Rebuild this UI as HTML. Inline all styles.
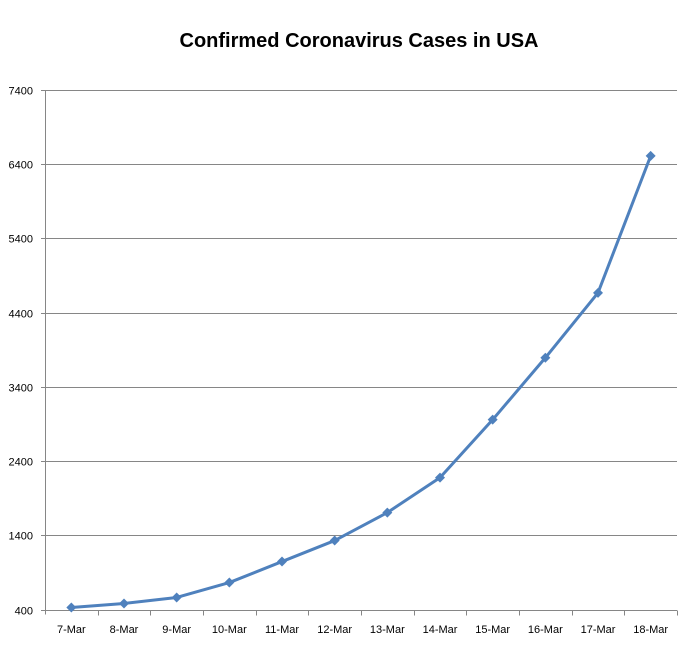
<!DOCTYPE html>
<html><head><meta charset="utf-8"><style>
body{margin:0;background:#fff;}
svg{display:block;font-family:"Liberation Sans",Arial,sans-serif;}
</style></head><body>
<svg id="chart" width="689" height="649">
<text x="359" y="47" text-anchor="middle" font-size="20" font-weight="bold" fill="#000">Confirmed Coronavirus Cases in USA</text>
<g id="grid"></g><g id="axes"></g><g id="series"></g>
</svg>
<script>
const categories=["7-Mar","8-Mar","9-Mar","10-Mar","11-Mar","12-Mar","13-Mar","14-Mar","15-Mar","16-Mar","17-Mar","18-Mar"];
const cases=[427,481,562,763,1046,1329,1706,2177,2958,3792,4667,6512];
const yTicks=[400,1400,2400,3400,4400,5400,6400,7400];
const ns="http://www.w3.org/2000/svg";
const L=45,R=677,T=90,B=609.5,yMin=400,yMax=7400;
const step=(R-L)/categories.length;
const xs=i=>L+step*(i+0.5);
const ys=v=>B-(v-yMin)/(yMax-yMin)*(B-T);
function mk(t,a,p){const e=document.createElementNS(ns,t);for(const k in a)e.setAttribute(k,a[k]);p.appendChild(e);return e;}
const grid=document.getElementById('grid'),axes=document.getElementById('axes'),ser=document.getElementById('series');
yTicks.forEach(v=>{
 const y=Math.round(ys(v))+0.5;
 if(v!==yMin){const g=mk('line',{x1:L,x2:R,y1:y,y2:y,stroke:'#868686','stroke-width':1},grid);
 
 }
 mk('line',{x1:L-4,x2:L,y1:y,y2:y,stroke:'#868686'},axes);
 const t=mk('text',{x:L-12,y:y+4,'text-anchor':'end','font-size':11,fill:'#000'},axes);
 t.textContent=v;
 
 
});
const ya=mk('line',{x1:L+0.5,x2:L+0.5,y1:T,y2:B+5,stroke:'#868686'},axes);


const by=Math.round(B)+0.5;
const xa=mk('line',{x1:L,x2:R,y1:by,y2:by,stroke:'#868686'},axes);


categories.forEach((c,i)=>{
 const tx=Math.round(L+step*(i+1))+0.5;
 mk('line',{x1:tx,x2:tx,y1:by,y2:by+5,stroke:'#868686'},axes);
 const t=mk('text',{x:xs(i),y:633,'text-anchor':'middle','font-size':11,fill:'#000'},axes);
 t.textContent=c;
 
 
});
const pts=cases.map((v,i)=>xs(i)+','+ys(v)).join(' ');
const pl=mk('polyline',{points:pts,fill:'none',stroke:'#4F81BD','stroke-width':3,'stroke-linejoin':'round'},ser);


cases.forEach((v,i)=>{
 const x=xs(i),y=ys(v);
 const m=mk('polygon',{points:`${x},${y-5} ${x+5},${y} ${x},${y+5} ${x-5},${y}`,fill:'#4F81BD'},ser);
 
 
});
</script>
</body></html>
